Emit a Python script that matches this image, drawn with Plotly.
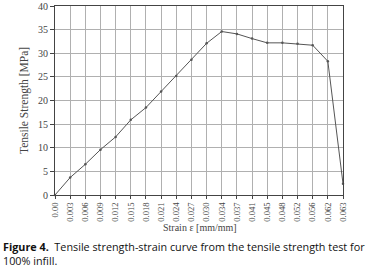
import plotly.graph_objects as go

strain = ["0.00", "0.003", "0.006", "0.009", "0.012", "0.015", "0.018", "0.021", "0.024", "0.027",
          "0.030", "0.034", "0.037", "0.041", "0.045", "0.048", "0.052", "0.056", "0.062", "0.063"]
stress = [0, 3.7, 6.5, 9.6, 12.3, 15.9, 18.5, 21.9, 25.2, 28.6,
          32.1, 34.6, 34.1, 33.1, 32.2, 32.2, 32.0, 31.7, 28.3, 2.4]

W, H = 373, 271
ml, mr, mt, mb = 55, 30, 6, 76
pw = W - ml - mr
ph = H - mt - mb

def py(pix):
    return (H - mb - pix) / ph

def px(pix):
    return (pix - ml) / pw

fig = go.Figure()
fig.add_trace(go.Scatter(
    x=strain, y=stress, mode="lines+markers",
    line=dict(color="#555555", width=1),
    marker=dict(size=2.5, color="#555555"),
    showlegend=False, cliponaxis=False,
))

serif = "Liberation Serif, Times New Roman, serif"
fig.update_layout(
    width=W, height=H,
    margin=dict(l=ml, r=mr, t=mt, b=mb),
    paper_bgcolor="white", plot_bgcolor="white",
    font=dict(family=serif, size=9, color="#444444"),
    xaxis=dict(
        type="category", tickangle=-90, showgrid=True, gridcolor="#b0b0b0", gridwidth=1,
        showline=True, linecolor="#444444", linewidth=1, mirror=True,
        ticks="outside", ticklen=3, tickcolor="#444444",
        tickfont=dict(family=serif, size=8.6, color="#444444"),
        range=[0, 19], zeroline=False, automargin=False,
    ),
    yaxis=dict(
        range=[0, 40], dtick=5, showgrid=True, gridcolor="#b0b0b0", gridwidth=1,
        showline=True, linecolor="#444444", linewidth=1, mirror=True,
        ticks="outside", ticklen=4, tickcolor="#444444",
        tickfont=dict(family=serif, size=10, color="#444444"),
        title=dict(text="Tensile Strength [MPa]", font=dict(family=serif, size=11.5, color="#444444"), standoff=6),
        zeroline=False, automargin=False,
    ),
)

fig.add_annotation(
    xref="paper", yref="paper", x=px(200), y=py(227),
    xanchor="center", yanchor="middle", showarrow=False,
    text="Strain ε [mm/mm]",
    font=dict(family=serif, size=10, color="#444444"),
)

fig.add_annotation(
    xref="paper", yref="paper", x=px(1), y=py(237),
    xanchor="left", yanchor="top", align="left", showarrow=False,
    text="<b>Figure 4.</b>  Tensile strength-strain curve from the tensile strength test for<br>100% infill.",
    font=dict(family="Open Sans, sans-serif", size=10.8, color="#111111"),
)

fig.write_html("out.html", config={"displayModeBar": False},
               post_script="document.body.style.margin='0';")
